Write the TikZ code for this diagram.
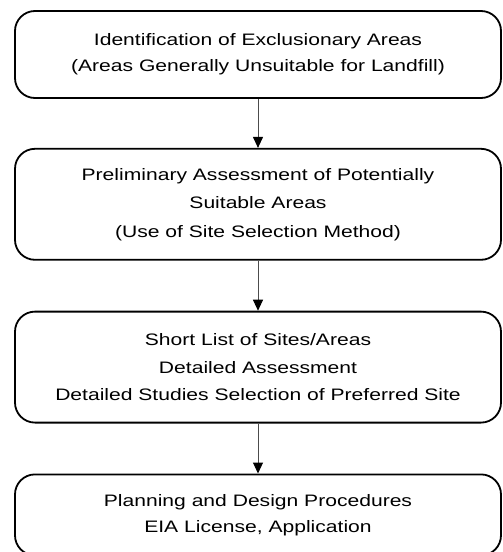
\documentclass[tikz,border=0pt]{standalone}
\usepackage{fontspec}
\setmainfont{Liberation Sans}[FakeStretch=1.27]
\usetikzlibrary{arrows.meta,positioning}

\begin{document}
\begin{tikzpicture}[box/.style={rounded corners=20pt,draw=black,line width=1.8pt,
        minimum width=486pt,inner sep=0pt,align=center,
        font=\fontsize{16.6}{#1}\selectfont},
    box/.default=26pt,
    flow/.style={draw=black!70,line width=1pt,
        -{Triangle[length=11pt,width=10pt,color=black]}}]
  \useasboundingbox (0,0) rectangle (503pt,-552pt);
  \node[box,minimum height=87pt] (excl) at (258pt,-54.5pt)
    {Identification of Exclusionary Areas\\(Areas Generally Unsuitable for Landfill)};
  \node[box=28.5pt,minimum height=111pt,below=49pt of excl] (prelim)
    {Preliminary Assessment of Potentially\\Suitable Areas\\(Use of Site Selection Method)};
  \node[box=27.5pt,minimum height=111pt,below=50pt of prelim] (short)
    {Short List of Sites/Areas\\Detailed Assessment\\Detailed Studies Selection of Preferred Site};
  \node[box,minimum height=81pt,below=50pt of short] (plan)
    {Planning and Design Procedures\\EIA License, Application};
  \draw[flow] (excl) -- (prelim);
  \draw[flow] (prelim) -- (short);
  \draw[flow] (short) -- (plan);
\end{tikzpicture}
\end{document}
